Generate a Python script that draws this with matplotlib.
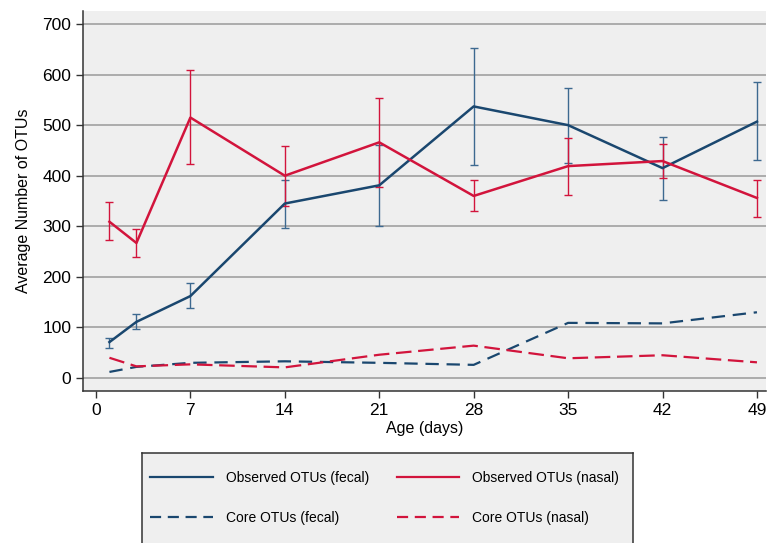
import matplotlib
matplotlib.use("Agg")
from matplotlib import pyplot as plt
from matplotlib.lines import Line2D

plt.rcParams['font.family'] = ['Liberation Sans', 'DejaVu Sans']

# age in days
age = [1, 3, 7, 14, 21, 28, 35, 42, 49]

# observed OTUs, mean with lower / upper error bar ends
obs_fecal = [71, 111, 162, 345, 381, 537, 500, 415, 507]
obs_fecal_lo = [59, 97, 138, 296, 301, 422, 425, 352, 431]
obs_fecal_hi = [80, 126, 188, 392, 461, 652, 573, 477, 585]

obs_nasal = [309, 267, 515, 400, 466, 360, 419, 429, 356]
obs_nasal_lo = [272, 240, 424, 341, 378, 330, 362, 395, 318]
obs_nasal_hi = [348, 294, 609, 459, 553, 391, 474, 462, 391]

# core OTUs
core_fecal = [12, 22, 30, 33, 30, 26, 109, 108, 130]
core_nasal = [40, 23, 27, 21, 46, 64, 39, 45, 31]

blue = '#1a476f'
red = '#d2143c'
bg = '#efefef'

fig = plt.figure(figsize=(7.67, 5.43), dpi=100)
ax = fig.add_axes([83 / 767, 1 - 391 / 543, 683 / 767, 380 / 543])
ax.set_facecolor(bg)

ax.plot(age, obs_fecal, color=blue, lw=1.8, zorder=3)
ax.plot(age, obs_nasal, color=red, lw=1.8, zorder=3)
ax.errorbar(age, obs_fecal,
            yerr=[[m - l for m, l in zip(obs_fecal, obs_fecal_lo)],
                  [h - m for m, h in zip(obs_fecal, obs_fecal_hi)]],
            fmt='none', ecolor='#3d6990', elinewidth=1, capsize=2.6, capthick=1, zorder=2)
ax.errorbar(age, obs_nasal,
            yerr=[[m - l for m, l in zip(obs_nasal, obs_nasal_lo)],
                  [h - m for m, h in zip(obs_nasal, obs_nasal_hi)]],
            fmt='none', ecolor=red, elinewidth=1, capsize=2.6, capthick=1, zorder=2)
ax.plot(age, core_fecal, color=blue, lw=1.6, dashes=(6, 3.5), zorder=3)
ax.plot(age, core_nasal, color=red, lw=1.6, dashes=(7, 3), zorder=3)

ax.set_xlim(-0.96, 49.67)
ax.set_ylim(-25.7, 725.7)
ax.set_xticks(range(0, 50, 7))
ax.set_yticks(range(0, 701, 100))
ax.yaxis.grid(True, color='#9a9a9a', lw=1.1)
ax.set_axisbelow(True)
for s in ['top', 'right']:
    ax.spines[s].set_visible(False)
for s in ['left', 'bottom']:
    ax.spines[s].set_color('#333333')
    ax.spines[s].set_linewidth(1.1)
ax.tick_params(axis='both', length=5, width=1, color='#333333', labelsize=12.5, pad=3.5)
ax.set_xlabel('Age (days)', fontsize=11.5, labelpad=2)
ax.set_ylabel('Average Number of OTUs', fontsize=11.5, labelpad=8)

# legend box below the plot
lax = fig.add_axes([142 / 767, -0.06, 491 / 767, 90 / 543 + 0.06])
lax.set_facecolor(bg)
lax.set_xticks([])
lax.set_yticks([])
for s in lax.spines.values():
    s.set_color('#333333')
    s.set_linewidth(1.1)
handles = [
    Line2D([], [], color=blue, lw=1.6),
    Line2D([], [], color=blue, lw=1.6, dashes=(5, 3)),
    Line2D([], [], color=red, lw=1.6),
    Line2D([], [], color=red, lw=1.6, dashes=(5, 3)),
]
labels = ['Observed OTUs (fecal)', 'Core OTUs (fecal)',
          'Observed OTUs (nasal)', 'Core OTUs (nasal)']
lax.legend(handles, labels, ncol=2, loc='upper left', bbox_to_anchor=(8 / 491, 0.855),
           frameon=False, fontsize=10, handlelength=4.5, handletextpad=0.95,
           columnspacing=2.0, labelspacing=1.9, borderaxespad=0, borderpad=0)

fig.savefig('out.png', dpi=100)
